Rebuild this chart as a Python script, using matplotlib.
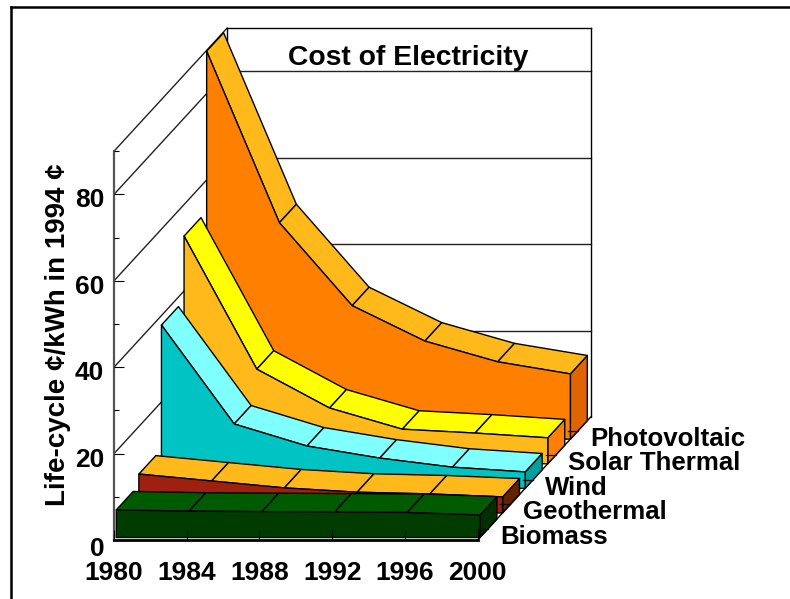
import matplotlib
matplotlib.use("Agg")
import matplotlib.pyplot as plt
import matplotlib.transforms as mtrans
import numpy as np

years = [1980, 1984, 1988, 1992, 1996, 2000]

# front to back
names = ["Biomass", "Geothermal", "Wind", "Solar Thermal", "Photovoltaic"]
biomass = [6.4, 6.1, 6.0, 5.9, 5.8, 5.2]
geothermal = [9.0, 7.4, 5.8, 4.8, 4.4, 3.7]
wind = [37.8, 14.9, 9.8, 7.0, 4.9, 3.8]
solar_thermal = [52.7, 21.9, 12.9, 8.0, 7.1, 6.0]
photovoltaic = [89.8, 50.1, 30.9, 22.7, 17.9, 15.1]

front_colors = ["#003c00", "#a02010", "#00c4c4", "#ffb91a", "#ff8000"]
top_colors = ["#005a00", "#ffb91a", "#80ffff", "#ffff00", "#ffb91a"]
side_colors = ["#003000", "#662200", "#00a0a0", "#ff8000", "#e06400"]

# pixel scale of the front plane, depth shift of one layer
PX_YEAR = 18.185
PX_COST = 4.32
STEP_X = 22.6 / PX_YEAR
STEP_Y = 24.6 / PX_COST
N_LAYERS = len(names)


def project(year, cost, depth):
    return year + depth * STEP_X, cost + depth * STEP_Y


def face(ax, pts, color, zorder):
    xy = np.array(pts)
    ax.fill(xy[:, 0], xy[:, 1], facecolor=color, edgecolor="black", lw=1.0,
            joinstyle="round", zorder=zorder)


def draw_layer(ax, i, values, zorder):
    d0, d1 = i + 0.1, i + 0.85
    # side
    face(ax, [project(years[-1], 0, d0), project(years[-1], values[-1], d0),
              project(years[-1], values[-1], d1), project(years[-1], 0, d1)],
         side_colors[i], zorder)
    # top, one piece per year step
    for k in range(len(years) - 1):
        face(ax, [project(years[k], values[k], d0), project(years[k + 1], values[k + 1], d0),
                  project(years[k + 1], values[k + 1], d1), project(years[k], values[k], d1)],
             top_colors[i], zorder)
    # front
    pts = [project(y, v, d0) for y, v in zip(years, values)]
    pts += [project(years[-1], 0, d0), project(years[0], 0, d0)]
    face(ax, pts, front_colors[i], zorder)


fig = plt.figure(figsize=(7.9, 5.99), dpi=100)
plt.rcParams["font.family"] = ["Liberation Sans", "DejaVu Sans"]
ax = fig.add_axes([0, 0, 1, 1])
ax.set_xlim(1980 - 114.0 / PX_YEAR, 1980 + (790 - 114.0) / PX_YEAR)
ax.set_ylim(-59.0 / PX_COST, 540.0 / PX_COST)
ax.patch.set_visible(False)

# frame of the slide, top and left only
fig.add_artist(plt.Line2D([10.5 / 790, 10.5 / 790], [0, 1 - 7 / 599], color="black", lw=1.8))
fig.add_artist(plt.Line2D([10.5 / 790, 1], [1 - 7 / 599, 1 - 7 / 599], color="black", lw=1.8))

# walls
grid = [20, 40, 60, 80, 90]
for g in grid:
    xs, ys = zip(project(1980, g, 0), project(1980, g, N_LAYERS))
    ax.plot(xs, ys, color="#222222", lw=1.0, zorder=0.5)
    xs, ys = zip(project(1980, g, N_LAYERS), project(2000, g, N_LAYERS))
    ax.plot(xs, ys, color="#222222" if g != 90 else "black", lw=1.0, zorder=0.5)
xs, ys = zip(project(2000, 0, N_LAYERS), project(2000, 90, N_LAYERS))
ax.plot(xs, ys, color="black", lw=1.0, zorder=0.5)
xs, ys = zip(project(1980, 0, N_LAYERS), project(1980, 90, N_LAYERS))
ax.plot(xs, ys, color="black", lw=1.0, zorder=0.5)
xs, ys = zip(project(2000, 0, 0), project(2000, 0, N_LAYERS))
ax.plot(xs, ys, color="black", lw=1.0, zorder=0.5)

series = [biomass, geothermal, wind, solar_thermal, photovoltaic]
for i in range(N_LAYERS - 1, -1, -1):
    draw_layer(ax, i, series[i], 1 + (N_LAYERS - i) * 0.1)

# little depth ticks on the floor edge
for i in range(N_LAYERS):
    ex, ey = project(2000, 0, i + 0.45)
    ax.plot([ex - 10 / PX_YEAR, ex], [ey, ey], color="black", lw=0.9, zorder=3)
    ax.annotate(names[i], project(2000, 0, i), xytext=(22.3, -4), textcoords="offset pixels",
                fontsize=18.6, fontweight="bold", ha="left", va="baseline", zorder=4)

# axes
for side in ["top", "right"]:
    ax.spines[side].set_visible(False)
ax.spines["left"].set_position(("data", 1980))
ax.spines["left"].set_bounds(0, 90)
ax.spines["left"].set_color("#555555")
ax.spines["left"].set_linewidth(1.6)
ax.spines["bottom"].set_position(("data", 0))
ax.spines["bottom"].set_bounds(1980, 2000)
ax.spines["bottom"].set_linewidth(2.0)
ax.set_axisbelow(False)

ax.set_xticks(years)
ax.set_yticks([0, 20, 40, 60, 80])
ax.set_yticks([10, 30, 50, 70, 90], minor=True)
ax.tick_params(axis="x", direction="in", length=7, width=0.8, pad=15, labelsize=19)
ax.tick_params(axis="y", which="major", direction="in", length=7, width=0.8, pad=7, labelsize=19)
ax.tick_params(axis="y", which="minor", direction="in", length=3.6, width=0.8)
for lab in ax.get_xticklabels() + ax.get_yticklabels():
    lab.set_fontweight("bold")
# y labels sit a little under their ticks, the 0 most of all
for lab, v in zip(ax.get_yticklabels(), ax.get_yticks()):
    shift = 7 if v == 0 else 3.5
    lab.set_transform(lab.get_transform() + mtrans.ScaledTranslation(0, -shift / 100, fig.dpi_scale_trans))

ax.text(58 / 790, 1 - 335 / 599, "Life-cycle ¢/kWh in 1994 ¢", transform=ax.transAxes, rotation=90,
        fontsize=20, fontweight="bold", ha="center", va="center")
ax.annotate("Cost of Electricity", project(1990, 90, N_LAYERS), xytext=(-0.5, -37), textcoords="offset pixels",
            fontsize=20.3, fontweight="bold", ha="center", va="baseline", zorder=4)

fig.savefig("out.png", dpi=100)
